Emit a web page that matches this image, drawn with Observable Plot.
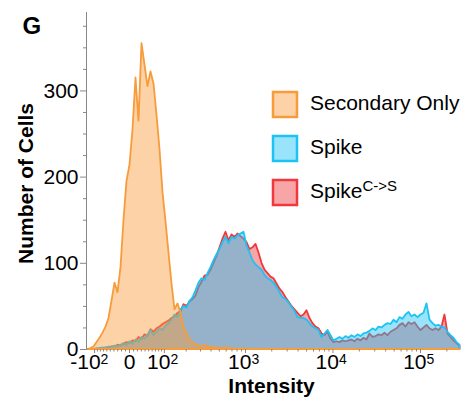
<!DOCTYPE html>
<html><head><meta charset="utf-8">
<script src="https://cdn.jsdelivr.net/npm/d3@7"></script>
<script src="https://cdn.jsdelivr.net/npm/@observablehq/plot@0.6"></script>
<style>
body{margin:0;background:#fff;}
#wrap{position:relative;width:462px;height:398px;}
#wrap svg.ov{position:absolute;left:0;top:0;pointer-events:none;}
</style></head><body><div id="wrap"></div>
<script>
// Histogram counts per display bin (bins evenly spaced on the biexponential intensity axis)
const secondaryOnly = [0,1,3,8,13,19,26,36,56,77,
66,95,150,195,214,255,315,265,355,330,
305,322,308,272,232,182,148,112,76,46,
53,42,25,18,11,8,5,4,3,5,
2,3,1,2,1,1,2,1,0,1,
0,0,1,0,0,0,0,0,0,0,
0,0,0,0,0,0,0,0,0,0,
0,0,0,0,0,0,0,0,0,0,
0,0,0,0,0,0,0,0,0,0,
0,0,0,0,0,0,0,0,0,0,
0,0,0,0,0,0,0,0,0,0,
0,0,0,0,0,0,0,0,0,0,
0,0,0,0,0];
const spike = [0,0,0,1,1,2,1,3,2,4,
3,5,7,4,9,6,11,8,14,12,
17,22,16,20,24,22,27,30,34,40,
37,46,50,48,56,60,68,77,82,80,
88,95,103,110,116,124,130,123,130,128,
132,134,136,120,112,103,98,95,92,86,
82,80,77,72,66,60,58,54,49,44,
37,36,36,34,30,26,24,22,14,18,
22,16,10,12,14,12,15,13,16,14,
17,15,18,19,21,24,22,26,25,28,
30,29,34,31,37,35,40,43,38,40,
37,40,42,53,34,30,27,28,26,25,
20,16,13,8,5];
const spikeCS = [0,0,0,0,1,1,2,2,3,3,
5,4,6,8,7,10,9,14,12,17,
15,23,20,24,26,29,31,33,36,38,
42,44,52,50,55,58,62,72,78,85,
86,92,100,108,118,128,136,126,133,130,
134,131,128,124,116,118,122,112,100,92,
88,84,82,76,70,66,60,55,50,46,
42,38,40,45,36,30,26,24,18,16,
20,12,8,9,8,10,9,10,11,9,
12,10,13,11,18,14,15,17,16,19,
16,20,22,24,28,30,26,31,29,31,
26,22,25,28,24,22,24,22,26,40,
18,14,10,7,4];

const yTicks = [0, 100, 200, 300];
const yMinorTicks = [25,50,75,125,150,175,225,250,275,325,350,375];
const xTickValues = [-100, 0, 100, 1000, 10000, 100000];
const xTickBase = ["-10", "0", "10", "10", "10", "10"];
const xTickExp = ["2", "", "2", "3", "4", "5"];
const seriesNames = ["Secondary Only", "Spike", "Spike"];
const seriesSup = ["", "", "C->S"];
const seriesColors = ["#f89b3a", "#1cc3f5", "#f0383d"];

// biexponential (asinh) display transform: intensity -> bin units
const bin = v => (43 + 38.03 * Math.asinh(v / 95) - 1.5) / 3;
const xDomain = [-0.5, 124.17];

const minorVals = [];
for (let k = 1; k <= 9; k++) { minorVals.push(-10 * k, 10 * k); }
for (const dec of [100, 1000, 10000]) for (let m = 2; m <= 9; m++) minorVals.push(m * dec);
minorVals.push(200000);

const rows = arr => arr.map((v, i) => ({bin: i, count: v}));
const font = '"Liberation Sans", Arial, Helvetica, sans-serif';
const tickRows = xTickValues.map((v, i) => ({b: bin(v), base: xTickBase[i], exp: xTickExp[i]}));

const area = (arr, c) => Plot.areaY(rows(arr), {
  x: "bin", y: "count", fill: c, fillOpacity: 0.45, stroke: c, strokeWidth: 1.8,
  strokeLinejoin: "round", curve: "linear"
});

const chart = Plot.plot({
  width: 462, height: 398,
  marginLeft: 86, marginRight: 2, marginTop: 12, marginBottom: 49,
  x: {domain: xDomain, axis: null},
  y: {domain: [0, 391], axis: null},
  style: {fontFamily: font, fontSize: "21px", color: "black", background: "white", overflow: "visible"},
  marks: [
    Plot.ruleY([0], {stroke: "#999"}),
    area(spikeCS, seriesColors[2]),
    area(spike, seriesColors[1]),
    area(secondaryOnly, seriesColors[0]),
    Plot.axisY({ticks: yTicks, tickSize: 6, tickPadding: 2, fontSize: 21, stroke: "#888", fill: "black", label: null}),
    Plot.axisY({ticks: yMinorTicks, tickSize: 3, tickFormat: () => "", stroke: "#888", label: null}),
    Plot.axisX({ticks: xTickValues.map(bin), tickSize: 4, tickFormat: () => "", stroke: "#888", label: null}),
    Plot.axisX({ticks: minorVals.map(bin), tickSize: 2.5, tickFormat: () => "", stroke: "#888", label: null}),
    Plot.ruleX([xDomain[0]], {stroke: "#888"}),
    Plot.text(tickRows.filter(d => d.exp), {x: "b", y: 0, text: "base", textAnchor: "end", lineAnchor: "bottom", dx: 6, dy: 19, fontSize: 21}),
    Plot.text(tickRows.filter(d => d.exp), {x: "b", y: 0, text: "exp", textAnchor: "start", lineAnchor: "bottom", dx: 6, dy: 14, fontSize: 14}),
    Plot.text(tickRows.filter(d => !d.exp), {x: "b", y: 0, text: "base", textAnchor: "middle", lineAnchor: "bottom", dy: 19, fontSize: 21}),
    Plot.text(["Intensity"], {frameAnchor: "bottom", textAnchor: "middle", lineAnchor: "bottom", dx: -2, dy: 43, fontSize: 21, fontWeight: "bold"}),
    Plot.text(["Number of Cells"], {frameAnchor: "left", textAnchor: "middle", lineAnchor: "bottom", rotate: -90, dx: -54, dy: 2.5, fontSize: 21, fontWeight: "bold"}),
    Plot.text(["G"], {frameAnchor: "top-left", textAnchor: "start", lineAnchor: "bottom", dx: -64, dy: 21, fontSize: 24, fontWeight: "bold"})
  ]
});
const wrap = document.getElementById("wrap");
wrap.appendChild(chart);

// legend overlay
const ov = d3.select(wrap).append("svg").attr("class", "ov").attr("width", 462).attr("height", 398)
  .style("font-family", font);
seriesNames.forEach((name, k) => {
  const g = ov.append("g").attr("transform", `translate(273,${92 + 44 * k})`);
  g.append("rect").attr("x", 0).attr("y", 0).attr("width", 24).attr("height", 25)
    .attr("fill", seriesColors[k]).attr("fill-opacity", 0.45)
    .attr("stroke", seriesColors[k]).attr("stroke-width", 2.5);
  const t = g.append("text").attr("x", 37).attr("y", 18).attr("font-size", 21).attr("fill", "black").text(name);
  if (seriesSup[k]) t.append("tspan").attr("font-size", 15).attr("dy", -7).text(seriesSup[k]);
});
</script></body></html>
